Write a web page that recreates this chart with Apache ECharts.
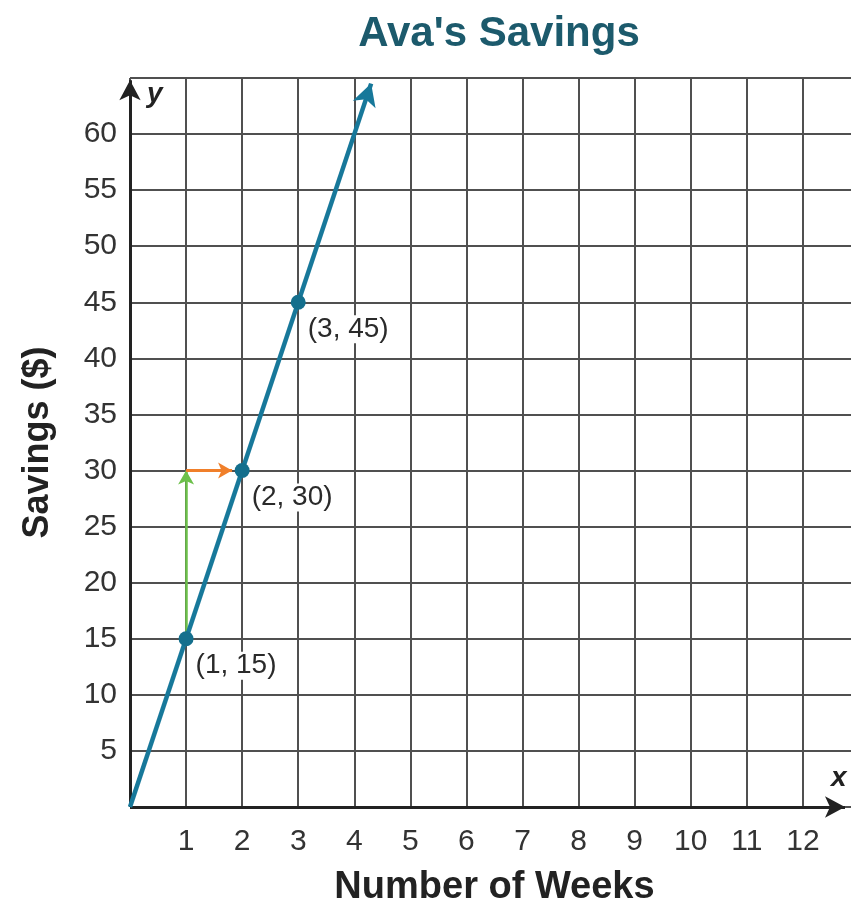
<!DOCTYPE html>
<html><head><meta charset="utf-8">
<script src="https://cdn.jsdelivr.net/npm/echarts@6/dist/echarts.min.js"></script>
<style>html,body{margin:0;padding:0;background:#fff}#c{width:851px;height:905px}</style>
</head><body><div id="c"></div>
<script>
const title = "Ava's Savings";
const xName = "Number of Weeks";
const yName = "Savings ($)";
const weeks = [1, 2, 3];
const savings = [15, 30, 45];
const pointLabels = ["(1, 15)", "(2, 30)", "(3, 45)"];
const xMin = 0, xMax = 13, xStep = 1;
const yMin = 0, yMax = 65, yStep = 5;
const lineEnd = [4.3, 64.5];      // arrow tip of the savings line
const axisEndX = 12.75, axisEndY = 64.8;
const riseFrom = [1, 15], riseTo = [1, 30];
const runFrom = [1, 30], runTo = [1.82, 30];

const FONT = "Liberation Sans, Arial, sans-serif";
const chart = echarts.init(document.getElementById('c'));
chart.setOption({
  animation: false,
  title: {text: title, left: 494, top: 8, textAlign: 'center',
    textStyle: {fontFamily: FONT, fontSize: 42, fontWeight: 'bold', color: '#1c5a6c'}},
  grid: {left: 130, top: 78, width: 729, height: 729, containLabel: false, outerBoundsMode: 'none'},
  xAxis: {type: 'value', min: xMin, max: xMax, interval: xStep,
    name: xName, nameLocation: 'middle', nameGap: 62,
    nameTextStyle: {fontFamily: FONT, fontSize: 38, fontWeight: 'bold', color: '#222'},
    axisLine: {show: false}, axisTick: {show: false},
    axisLabel: {margin: 20, fontFamily: FONT, fontSize: 30, color: '#333',
      formatter: v => (v >= 1 && v <= 12) ? String(v) : ''},
    splitLine: {show: true, lineStyle: {color: '#505050', width: 2}}},
  yAxis: {type: 'value', min: yMin, max: yMax, interval: yStep,
    name: yName, nameLocation: 'middle', nameGap: 74, nameRotate: 90,
    nameTextStyle: {fontFamily: FONT, fontSize: 36, fontWeight: 'bold', color: '#222'},
    axisLine: {show: false}, axisTick: {show: false},
    axisLabel: {margin: 13, fontFamily: FONT, fontSize: 30, color: '#333',
      formatter: v => (v >= 5 && v <= 60) ? String(v) : ''},
    splitLine: {show: true, lineStyle: {color: '#505050', width: 2}}},
  graphic: [
    {type: 'text', left: 147, top: 80, style: {text: 'y', font: 'italic bold 28px ' + FONT, fill: '#222'}},
    {type: 'text', left: 831, top: 764, style: {text: 'x', font: 'italic bold 28px ' + FONT, fill: '#222'}}
  ],
  series: [
    {type: 'line', data: [], clip: false, silent: true,
      markLine: {silent: true, symbol: ['none', 'arrow'], symbolSize: [16, 20], label: {show: false},
        lineStyle: {color: '#222', width: 3, type: 'solid'}, z: 3,
        data: [
          [{coord: [0, 0]}, {coord: [axisEndX, 0]}],
          [{coord: [0, 0]}, {coord: [0, axisEndY]}]
        ]}},
    {type: 'line', data: [], clip: false, silent: true,
      markLine: {silent: true, symbol: ['none', 'arrow'], symbolSize: [12, 14], label: {show: false}, z: 4,
        data: [
          [{coord: riseFrom, lineStyle: {color: '#6cc04a', width: 2.5, type: 'solid'}},
           {coord: riseTo, lineStyle: {color: '#6cc04a', width: 2.5, type: 'solid'}}],
          [{coord: runFrom, lineStyle: {color: '#f07f2a', width: 3, type: 'solid'}},
           {coord: runTo, lineStyle: {color: '#f07f2a', width: 3, type: 'solid'}}]
        ]}},
    {type: 'line', data: [], clip: false, silent: true,
      markLine: {silent: true, symbol: ['none', 'arrow'], symbolSize: [18, 22], label: {show: false}, z: 5,
        lineStyle: {color: '#17789a', width: 4.5, type: 'solid'},
        data: [[{coord: [0, 0]}, {coord: lineEnd}]]}},
    {type: 'scatter', z: 6, symbol: 'circle', symbolSize: 15, clip: false,
      itemStyle: {color: '#146f8d', opacity: 1},
      data: weeks.map((w, i) => [w, savings[i]]),
      label: {show: true, position: 'right', distance: 0, offset: [0, 27],
        backgroundColor: '#fff', padding: [0, 2],
        formatter: p => pointLabels[p.dataIndex],
        fontFamily: FONT, fontSize: 28, color: '#2a2a2a'}}
  ]
});
</script></body></html>
